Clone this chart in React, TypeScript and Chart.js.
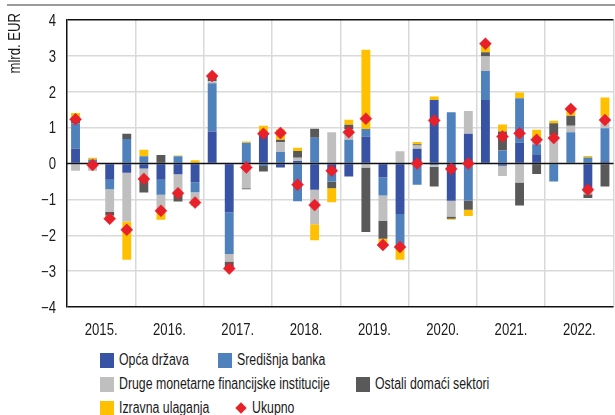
import React, { useEffect, useRef } from 'react';
import { Chart, registerables } from 'chart.js';

Chart.register(...registerables);

const FONT = "'Liberation Sans', Arial, sans-serif";
const NARROW = 0.82;
const LEGEND_NARROW = 0.77;
const TEXT = '#1a1a1a';

const years = ['2015.', '2016.', '2017.', '2018.', '2019.', '2020.', '2021.', '2022.'];
const quarterNames = ['Q1', 'Q2', 'Q3', 'Q4'];
const categories = years.flatMap((y) => quarterNames.map((q) => `${y} ${q}`));

const yTitle = 'mlrd. EUR';
const yTicks = [-4, -3, -2, -1, 0, 1, 2, 3, 4];

const opcaDrzava = [
  0.42, 0.03, -0.45, -0.26,
  -0.14, -0.45, -0.3, -0.52,
  0.89, -1.36, 0, 0.8,
  -0.11, 0.07, -0.73, -0.27,
  -0.36, 0.75, -0.38, -1.41,
  0.41, 1.77, -1.04, 0.83,
  1.77, -0.06, 0.58, 0.26,
  0, 0, -0.78, 0.06,
];
const sredisnjaBanka = [
  0.7, 0.08, -0.27, 0.68,
  0.2, -0.42, 0.2, -0.28,
  1.35, -1.16, 0.58, -0.07,
  0.32, -1.05, 0.72, -0.23,
  0.66, 0.21, -0.51, -0.86,
  -0.59, -0.04, 1.43, -1.03,
  0.81, 0.36, 1.24, 0.28,
  -0.5, 0.87, 0.17, 0.92,
];
const drugeMFI = [
  -0.2, -0.2, -0.63, -1.36,
  -0.27, -0.42, -0.57, -0.38,
  0.05, -0.21, -0.69, 0,
  0.27, 0.09, -0.96, 0.87,
  0.3, -0.11, -0.71, 0.34,
  0.09, -0.05, -0.44, 0.63,
  0.4, -0.29, -0.53, 0.16,
  0.78, 0.18, -0.08, 0.33,
];
const ostaliSektori = [
  0.12, 0, -0.1, 0.15,
  -0.4, 0.24, -0.19, 0,
  0.15, -0.19, -0.03, -0.15,
  0.07, 0.19, 0.25, -0.19,
  0.12, -1.8, -0.5, 0,
  0.04, -0.55, -0.06, -0.26,
  0.12, 0.53, -0.64, -0.29,
  0.34, 0.28, -0.1, -0.64,
];
const izravnaUlaganja = [
  0.17, 0.05, -0.08, -1.06,
  0.18, -0.28, 0.02, 0.09,
  0, 0, 0.03, 0.25,
  0.29, 0.09, -0.45, -0.39,
  0.14, 2.21, -0.17, -0.41,
  0.06, 0.1, -0.03, -0.17,
  0.22, 0.2, 0.16, 0.24,
  0.07, 0.18, 0.04, 0.53,
];
const ukupno = [
  1.23, -0.04, -1.54, -1.85,
  -0.43, -1.32, -0.83, -1.09,
  2.44, -2.93, -0.11, 0.83,
  0.85, -0.59, -1.16, -0.2,
  0.87, 1.25, -2.27, -2.33,
  0.0, 1.2, -0.15, 0.0,
  3.34, 0.75, 0.84, 0.66,
  0.71, 1.52, -0.73, 1.21,
];

const series = [
  { label: 'Opća država', data: opcaDrzava, color: '#3953a4' },
  { label: 'Središnja banka', data: sredisnjaBanka, color: '#4f81bd' },
  { label: 'Druge monetarne financijske institucije', data: drugeMFI, color: '#bfbfbf' },
  { label: 'Ostali domaći sektori', data: ostaliSektori, color: '#595959' },
  { label: 'Izravna ulaganja', data: izravnaUlaganja, color: '#ffc000' },
];
const totalLabel = 'Ukupno';
const totalColor = '#e8202a';

const GRID = '#d9d9d9';
const DARK = '#111111';

function narrowText(ctx: CanvasRenderingContext2D, text: string, x: number, y: number, align: CanvasTextAlign, size: number) {
  ctx.save();
  ctx.translate(x, y);
  ctx.scale(NARROW, 1);
  ctx.font = `${size}px ${FONT}`;
  ctx.fillStyle = TEXT;
  ctx.textAlign = align;
  ctx.textBaseline = 'alphabetic';
  ctx.fillText(text, 0, 0);
  ctx.restore();
}

const fmtTick = (v: number) => (v < 0 ? '\u2212' + Math.abs(v) : String(v));

const decorPlugin = {
  id: 'decor',
  beforeDatasetDraw(chart: any, args: any) {
    if (args.meta.type !== 'line') return;
    const { ctx, chartArea, scales } = chart;
    const y0 = scales.y.getPixelForValue(0);
    ctx.save();
    ctx.strokeStyle = DARK;
    ctx.lineWidth = 1.5;
    ctx.beginPath();
    ctx.moveTo(chartArea.left, y0);
    ctx.lineTo(chartArea.right, y0);
    ctx.stroke();
    ctx.restore();
  },
  afterDraw(chart: any) {
    const ctx = chart.ctx as CanvasRenderingContext2D;
    const { scales, chartArea } = chart;
    ctx.save();
    ctx.strokeStyle = '#7a7a7a';
    ctx.lineWidth = 1.5;
    ctx.beginPath();
    ctx.moveTo(7, 5);
    ctx.lineTo(chart.width, 5);
    ctx.stroke();
    ctx.restore();

    yTicks.forEach((v) => {
      const y = scales.y.getPixelForValue(v);
      narrowText(ctx, fmtTick(v), chartArea.left - 11, y + 5.8, 'right', 16);
    });
    years.forEach((yr, i) => {
      const a = scales.x.getPixelForValue(i * 4 + 1);
      const b = scales.x.getPixelForValue(i * 4 + 2);
      narrowText(ctx, yr, (a + b) / 2, 335, 'center', 16);
    });
    ctx.save();
    ctx.translate(20, 13);
    ctx.rotate(-Math.PI / 2);
    narrowText(ctx, yTitle, 0, 0, 'right', 16);
    ctx.restore();
  },
};

function LegendRow({ items, top }: { items: { label: string; color: string; left: number; diamond?: boolean }[]; top: number }) {
  return (
    <>
      {items.map((it) => (
        <div
          key={it.label}
          style={{
            position: 'absolute',
            left: it.left,
            top: top - 8,
            height: 16,
            display: 'flex',
            alignItems: 'center',
            whiteSpace: 'nowrap',
          }}
        >
          {it.diamond ? (
            <div style={{ width: 12, height: 15, display: 'flex', alignItems: 'center', justifyContent: 'center', marginRight: 5, flex: 'none' }}>
              <div style={{ width: 8, height: 8, background: it.color, transform: 'rotate(45deg)' }} />
            </div>
          ) : (
            <div style={{ width: 14, height: 15, background: it.color, marginRight: 5, flex: 'none' }} />
          )}
          <span
            style={{
              fontFamily: FONT,
              fontSize: 16,
              lineHeight: '16px',
              color: TEXT,
              display: 'inline-block',
              transform: `scaleX(${LEGEND_NARROW})`,
              transformOrigin: 'left center',
            }}
          >
            {it.label}
          </span>
        </div>
      ))}
    </>
  );
}

export default function App() {
  const ref = useRef<HTMLCanvasElement | null>(null);

  useEffect(() => {
    if (!ref.current) return;
    const chart = new Chart(ref.current, {
      data: {
        labels: categories,
        datasets: [
          ...series.map((s) => ({
            type: 'bar' as const,
            label: s.label,
            data: s.data,
            backgroundColor: s.color,
            borderWidth: 0,
            barPercentage: 0.52,
            categoryPercentage: 1,
            xAxisID: 'x',
            yAxisID: 'y',
          })),
          {
            type: 'line' as const,
            label: totalLabel,
            data: ukupno,
            showLine: false,
            pointStyle: 'rectRot',
            pointRadius: 6,
            pointHoverRadius: 6,
            pointBackgroundColor: totalColor,
            pointBorderColor: totalColor,
            pointBorderWidth: 0.5,
            order: -1,
            xAxisID: 'x',
            yAxisID: 'y',
          },
        ],
      },
      options: {
        responsive: false,
        animation: false,
        layout: { padding: { top: 20, left: 0, right: 0, bottom: 0 } },
        plugins: { legend: { display: false }, tooltip: { enabled: false } },
        scales: {
          x: { display: false, stacked: true, offset: true },
          x2: {
            type: 'category',
            labels: years,
            position: 'bottom',
            offset: true,
            grid: {
              offset: true,
              drawTicks: false,
              color: (c: any) => (c.index === 0 ? 'rgba(0,0,0,0)' : GRID),
              lineWidth: 1.5,
            },
            border: { display: false },
            ticks: { display: false },
            afterFit: (s: any) => {
              s.height = 38;
            },
          },
          y: {
            stacked: true,
            min: -4,
            max: 4,
            afterBuildTicks: (s: any) => {
              s.ticks = yTicks.map((v) => ({ value: v }));
            },
            ticks: { display: false },
            grid: {
              drawTicks: false,
              color: (c: any) => {
                const v = c.tick?.value;
                if (v === 4 || v === -4) return DARK;
                if (v === 0) return 'rgba(0,0,0,0)';
                return GRID;
              },
              lineWidth: 1.5,
            },
            border: { display: true, color: DARK, width: 1.5 },
            afterFit: (s: any) => {
              s.width = 67;
            },
          },
        },
      } as any,
      plugins: [decorPlugin],
    });
    return () => chart.destroy();
  }, []);

  return (
    <div style={{ position: 'fixed', left: 0, top: 0, width: 615, height: 415, overflow: 'hidden', background: '#fff' }}>
      <canvas ref={ref} width={620} height={345} style={{ position: 'absolute', left: 0, top: 0, width: 620, height: 345 }} />
      <LegendRow
        top={360}
        items={[
          { label: series[0].label, color: series[0].color, left: 100 },
          { label: series[1].label, color: series[1].color, left: 218 },
        ]}
      />
      <LegendRow
        top={384}
        items={[
          { label: series[2].label, color: series[2].color, left: 100 },
          { label: series[3].label, color: series[3].color, left: 356 },
        ]}
      />
      <LegendRow
        top={408}
        items={[
          { label: series[4].label, color: series[4].color, left: 100 },
          { label: totalLabel, color: totalColor, left: 235, diamond: true },
        ]}
      />
    </div>
  );
}
